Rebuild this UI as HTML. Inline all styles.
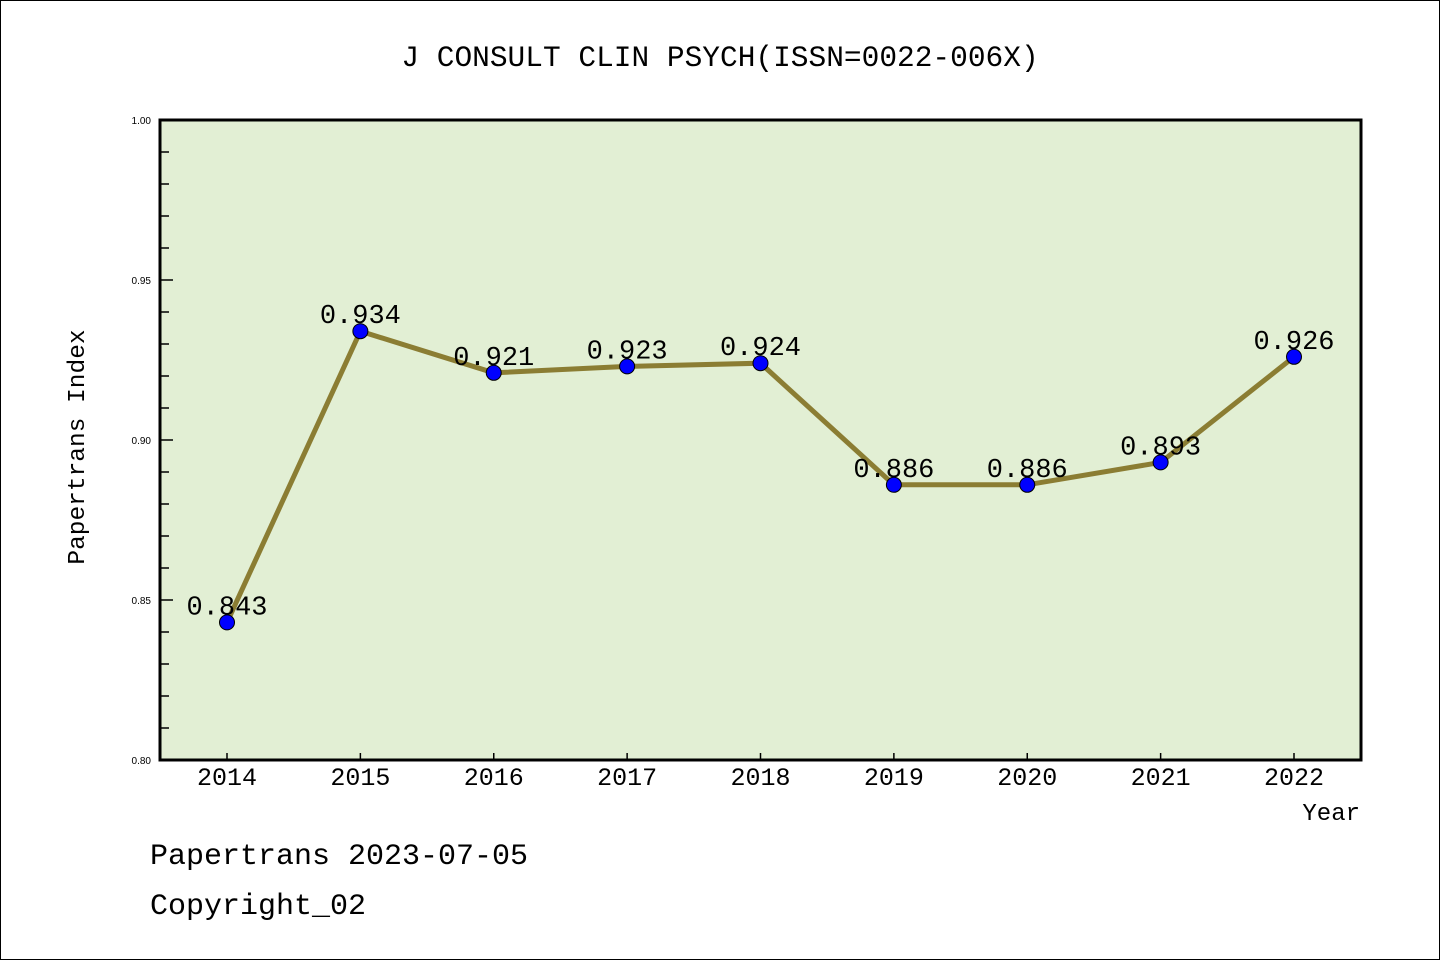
<!DOCTYPE html>
<html><head><meta charset="utf-8"><style>
html,body{margin:0;padding:0;background:#fff}
svg text{font-family:"Liberation Mono",monospace}
svg text.sm{font-family:"Liberation Sans",sans-serif}
</style></head><body>
<svg width="1440" height="960" xmlns="http://www.w3.org/2000/svg">
<rect x="0.5" y="0.5" width="1439" height="959" fill="#fff" stroke="#000"/>
<text x="720" y="66" font-size="29.5" text-anchor="middle">J CONSULT CLIN PSYCH(ISSN=0022-006X)</text>
<rect x="160" y="120" width="1201" height="640" fill="#e2efd4"/>
<g id="ticks"></g>
<polyline id="line" fill="none" stroke="#8b7d33" stroke-width="5"/>
<g id="pts"></g>
<rect x="160" y="120" width="1201" height="640" fill="none" stroke="#000" stroke-width="3"/>
<text x="84" y="447" font-size="24.5" text-anchor="middle" transform="rotate(-90 84 447)">Papertrans Index</text>
<text x="1360" y="820" font-size="24" text-anchor="end">Year</text>
<text x="150" y="864" font-size="30">Papertrans 2023-07-05</text>
<text x="150" y="914" font-size="30">Copyright_02</text>
</svg>
<script>
const years=["2014","2015","2016","2017","2018","2019","2020","2021","2022"];
const values=[0.843,0.934,0.921,0.923,0.924,0.886,0.886,0.893,0.926];
const yTicks=["0.80","0.85","0.90","0.95","1.00"];
const NS="http://www.w3.org/2000/svg";
const xS=i=>227+i*(1294-227)/(years.length-1);
const yS=v=>760-(v-0.8)/0.2*640;
function mk(t,a,p){const e=document.createElementNS(NS,t);for(const k in a)e.setAttribute(k,a[k]);p.appendChild(e);return e;}
const tg=document.getElementById('ticks');
for(let k=0;k<=20;k++){const v=0.8+k*0.01;const y=yS(v);const major=k%5===0;
 const l=mk('line',{x1:160,x2:160+(major?13:9),y1:y,y2:y,stroke:'#000','stroke-width':1.5},tg);
 
 
}
yTicks.forEach(s=>{const t=mk('text',{x:151,y:yS(parseFloat(s))+4,'font-size':10,'text-anchor':'end','class':'sm'},tg);t.textContent=s;
 
 });
years.forEach((yr,i)=>{const l=mk('line',{x1:xS(i),x2:xS(i),y1:760,y2:753,stroke:'#000','stroke-width':1.5},tg);
 
 
 const t=mk('text',{x:xS(i),y:785,'font-size':25,'text-anchor':'middle'},tg);t.textContent=yr;
 
 });
document.getElementById('line').setAttribute('points',values.map((v,i)=>xS(i)+','+yS(v)).join(' '));
const pg=document.getElementById('pts');
values.forEach((v,i)=>{const c=mk('circle',{cx:xS(i),cy:yS(v),r:7.5,fill:'#0000ff',stroke:'#000','stroke-width':1},pg);
 
 
 const t=mk('text',{x:xS(i),y:yS(v)-8,'font-size':27,'text-anchor':'middle'},pg);t.textContent=v.toFixed(3);
 
 });
</script>
</body></html>
